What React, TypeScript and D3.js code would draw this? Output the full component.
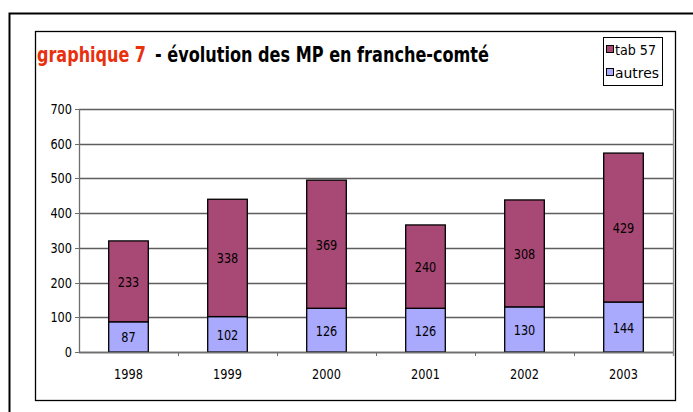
import React from "react";
import * as d3 from "d3";

// chart values
const years = ["1998", "1999", "2000", "2001", "2002", "2003"];
const autres = [87, 102, 126, 126, 130, 144];
const tab57 = [233, 338, 369, 240, 308, 429];
const yTicks = [0, 100, 200, 300, 400, 500, 600, 700];

const W = 693;
const H = 412;
const FONT = "'DejaVu Sans Condensed', 'DejaVu Sans', sans-serif";
const C_TAB = "#A84874";
const C_AUT = "#A9A9FD";

// narrow label: fixed width per character, like the stretched original
function Lbl(props: { x: number; y: number; s: string | number; anchor?: string; per?: number }) {
  const s = String(props.s);
  const per = props.per ?? 7.2;
  return (
    <text x={props.x} y={props.y} fontSize={14.5} textAnchor={props.anchor ?? "middle"} fill="#000"
      textLength={s.length * per} lengthAdjust="spacingAndGlyphs">{s}</text>
  );
}

export default function App() {
  const left = 79, right = 673, top = 109, bottom = 352;

  const x = d3.scaleBand().domain(years).range([left, right]).paddingInner(0.6).paddingOuter(0.3);
  const xb = d3.scaleBand().domain(years).range([left, right]);
  const y = d3.scaleLinear().domain([0, 700]).range([bottom, top]);

  const stack = years.map((yr, i) => ({ yr, a: autres[i], t: tab57[i] }));

  return (
    <svg width={W} height={H} style={{ position: "absolute", left: 0, top: 0, background: "#fff" }} fontFamily={FONT}>
      {/* outer frame */}
      <rect x={9.5} y={13.5} width={720} height={420} fill="none" stroke="#000" strokeWidth={2} />
      {/* chart box */}
      <rect x={35.5} y={31.5} width={640} height={369} fill="#fff" stroke="#000" strokeWidth={1.3} />

      {/* title */}
      <text x={37} y={62} fontSize={21} fontWeight="bold" fill="#E8300E" textLength={109} lengthAdjust="spacingAndGlyphs">graphique 7</text>
      <text x={155} y={62} fontSize={21} fontWeight="bold" fill="#000" textLength={334} lengthAdjust="spacingAndGlyphs">- évolution des MP en franche-comté</text>

      {/* gridlines */}
      {yTicks.map(t => (
        <line key={"g" + t} x1={left} x2={right} y1={Math.round(y(t)) + 0.5} y2={Math.round(y(t)) + 0.5} stroke="#5e5e5e" strokeWidth={1.4} />
      ))}
      {/* plot area right border */}
      <line x1={right + 0.5} x2={right + 0.5} y1={top} y2={bottom + 4} stroke="#8c8c8c" strokeWidth={1.3} />

      {/* y axis */}
      <line x1={left + 0.5} x2={left + 0.5} y1={top} y2={bottom} stroke="#6e6e6e" strokeWidth={1.3} />
      {yTicks.map(t => (
        <g key={"y" + t}>
          <line x1={left - 4} x2={left} y1={Math.round(y(t)) + 0.5} y2={Math.round(y(t)) + 0.5} stroke="#6e6e6e" />
          <Lbl x={left - 7} y={y(t) + 5} s={t} anchor="end" />
        </g>
      ))}

      {/* x axis */}
      {years.map((yr, i) => (
        <g key={"x" + yr}>
          {i > 0 && (
            <line x1={Math.round(xb(yr)!) + 0.5} x2={Math.round(xb(yr)!) + 0.5} y1={bottom} y2={bottom + 4} stroke="#6e6e6e" />
          )}
          <Lbl x={xb(yr)! + xb.bandwidth() / 2} y={379} s={yr} />
        </g>
      ))}

      {/* bars */}
      {stack.map(d => {
        const bx = x(d.yr)!;
        const bw = x.bandwidth();
        const yA = y(d.a);
        const yT = y(d.a + d.t);
        return (
          <g key={"b" + d.yr}>
            <rect x={bx} y={yA} width={bw} height={y(0) - yA} fill={C_AUT} stroke="#000" strokeWidth={1.3} />
            <rect x={bx} y={yT} width={bw} height={yA - yT} fill={C_TAB} stroke="#000" strokeWidth={1.3} />
            <Lbl x={bx + bw / 2} y={(yA + y(0)) / 2 + 5.5} s={d.a} />
            <Lbl x={bx + bw / 2} y={(yT + yA) / 2 + 5.5} s={d.t} />
          </g>
        );
      })}
      <line x1={left} x2={right} y1={bottom + 0.5} y2={bottom + 0.5} stroke="#6e6e6e" strokeWidth={1.3} />

      {/* legend */}
      <rect x={603.5} y={37.5} width={59} height={48} fill="#fff" stroke="#000" strokeWidth={1} />
      <rect x={606.5} y={45.5} width={7} height={7} fill={C_TAB} stroke="#000" />
      <text x={615} y={55} fontSize={14.5} fill="#000" textLength={41} lengthAdjust="spacingAndGlyphs">tab 57</text>
      <rect x={606.5} y={68.5} width={7} height={7} fill={C_AUT} stroke="#000" />
      <text x={615} y={78} fontSize={14.5} fill="#000" textLength={44} lengthAdjust="spacingAndGlyphs">autres</text>
    </svg>
  );
}
